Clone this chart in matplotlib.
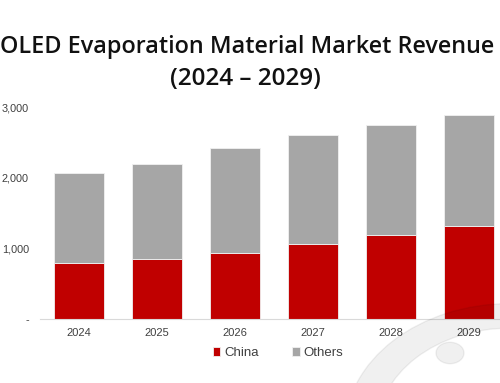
import matplotlib.pyplot as plt
from matplotlib.patches import Wedge, Circle

years = ["2024", "2025", "2026", "2027", "2028", "2029"]
china = [790, 855, 930, 1070, 1190, 1320]
total = [2070, 2190, 2420, 2605, 2745, 2890]
others = [t - c for t, c in zip(total, china)]
yticks = [0, 1000, 2000, 3000]
ytick_labels = ["-", "1,000", "2,000", "3,000"]

fig = plt.figure(figsize=(5, 3.83), dpi=100)
ax = fig.add_axes([0.08, 0.1663, 0.936, 0.5543])

x = range(len(years))
ax.bar(x, china, width=0.64, color="#c00000", edgecolor="#f0f0f0", linewidth=0.6, label="China")
ax.bar(x, others, width=0.64, bottom=china, color="#a6a6a6", edgecolor="#f0f0f0", linewidth=0.6, label="Others")

ax.set_xlim(-0.5, 5.5)
ax.set_ylim(0, 3000)
ax.set_xticks(list(x))
ax.set_xticklabels(years, fontsize=8, color="#404040", family="Liberation Sans")
ax.set_yticks(yticks)
ax.set_yticklabels(ytick_labels, fontsize=7.8, color="#404040", family="Liberation Sans")
ax.tick_params(length=0, pad=8, axis="y")
ax.tick_params(length=0, pad=6, axis="x")
for s in ["top", "right", "left"]:
    ax.spines[s].set_visible(False)
ax.spines["bottom"].set_color("#d9d9d9")

leg = fig.legend(loc="center", bbox_to_anchor=(0.556, 0.078), ncol=2, frameon=False,
                 prop={"family": "Liberation Sans", "size": 9.5}, handlelength=0.6,
                 handleheight=0.6, handletextpad=0.3, columnspacing=2.5)
for t in leg.get_texts():
    t.set_color("#404040")

fig.text(0.495, 0.878, "OLED Evaporation Material Market Revenue", ha="center", va="center",
         fontsize=16.8, family="Open Sans", weight="semibold", color="#111111")
fig.text(0.49, 0.795, "(2024 \u2013 2029)", ha="center", va="center",
         fontsize=17.5, family="Open Sans", weight="semibold", color="#111111")

# faint watermark logo, bottom right
W, H = 500, 383
fig.patches.append(Wedge((510 / W, 1 - 430 / H), 165 / W, 0, 360, width=32 / W,
                         transform=fig.transFigure, color="black", alpha=0.06,
                         zorder=5))
fig.patches.append(Circle((450 / W, 1 - 353 / H), 14 / W, transform=fig.transFigure,
                          color="black", alpha=0.06, zorder=5))

fig.savefig("out.png", dpi=100)
